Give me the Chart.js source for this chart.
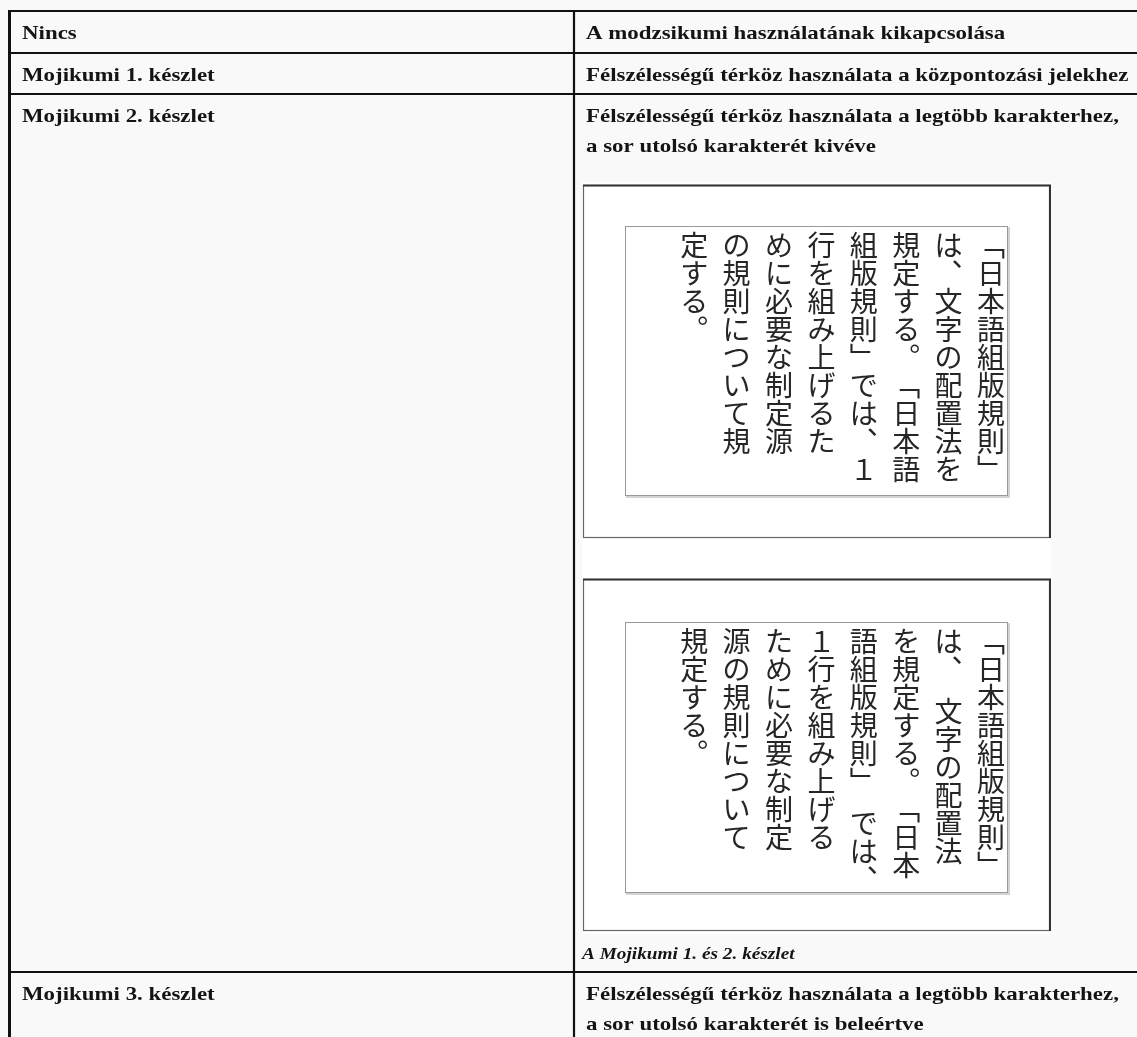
<!DOCTYPE html>
<html><head><meta charset="utf-8">
<script src="https://cdn.jsdelivr.net/npm/chart.js@4.4.0/dist/chart.umd.min.js"></script>
<style>html,body{margin:0;padding:0;background:#f9f9f9;overflow:hidden}#c{display:block}</style>
</head><body>
<canvas id="c" width="1137" height="1037"></canvas>
<script>
// ---- data ----
const rowLabels = ["Nincs", "Mojikumi 1. készlet", "Mojikumi 2. készlet", "Mojikumi 3. készlet"];
const rowDescriptions = [
  ["A modzsikumi használatának kikapcsolása"],
  ["Félszélességű térköz használata a központozási jelekhez"],
  ["Félszélességű térköz használata a legtöbb karakterhez,", "a sor utolsó karakterét kivéve"],
  ["Félszélességű térköz használata a legtöbb karakterhez,", "a sor utolsó karakterét is beleértve"]
];
const figureCaption = "A Mojikumi 1. és 2. készlet";
const sampleSet1Columns = ["「日本語組版規則」", "は、文字の配置法を", "規定する。「日本語", "組版規則」では、１", "行を組み上げるた", "めに必要な制定源", "の規則について規", "定する。"];
const sampleSet2Columns = ["「日本語組版規則」", "は、 文字の配置法", "を規定する。「日本", "語組版規則」 では、", "１行を組み上げる", "ために必要な制定", "源の規則について", "規定する。"];

// ---- layout / style ----
const rowLines = [11, 53, 94, 972, 1040];
const colDivX = 574, tableLeft = 9.5, tableRight = 1140;
const leftTextX = 22, rightTextX = 586, baselineOffset = 28, lineGap = 30;
const hScale = 1.205;
const serif = '"Liberation Serif", "Times New Roman", serif';
const jp = '"Noto Sans CJK JP", "Noto Sans CJK SC", sans-serif';
const figures = [
  {cols: sampleSet1Columns, frame: [583, 185, 1049, 537], inner: [625, 226, 1007, 495], top: 231},
  {cols: sampleSet2Columns, frame: [583, 579, 1049, 930], inner: [625, 622, 1007, 892], top: 627}
];
const colX0 = 991, colStep = 42.4, charPitch = 28;
const vertMap = {"、": "\uFE11", "。": "\uFE12", "「": "\uFE41", "」": "\uFE42"};

function drawScaled(c, text, x, y) {
  c.save(); c.translate(x, y); c.scale(hScale, 1); c.fillText(text, 0, 0); c.restore();
}

const tablePlugin = {
  id: 'tablePlugin',
  beforeDraw(chart) {
    const c = chart.ctx;
    c.save(); c.fillStyle = '#f9f9f9'; c.fillRect(0, 0, chart.width, chart.height); c.restore();
  },
  afterDraw(chart) {
    const c = chart.ctx, sx = chart.scales.x, sy = chart.scales.y;
    const X = v => sx.getPixelForValue(v), Y = v => sy.getPixelForValue(v);
    c.save();
    // figure white area
    c.fillStyle = '#ffffff';
    c.fillRect(X(582), Y(182), X(1051) - X(582), Y(934) - Y(182));
    figures.forEach(f => {
      const [x0, y0, x1, y1] = f.frame;
      c.strokeStyle = '#666'; c.lineWidth = 1.2;
      c.strokeRect(X(x0) + 0.5, Y(y0) + 0.5, X(x1) - X(x0), Y(y1) - Y(y0));
      c.strokeStyle = '#333'; c.lineWidth = 2;
      c.beginPath(); c.moveTo(X(x0), Y(y0) + 0.5); c.lineTo(X(x1) + 1, Y(y0) + 0.5); c.lineTo(X(x1) + 1, Y(y1) + 1); c.stroke();
      const [ix0, iy0, ix1, iy1] = f.inner;
      c.strokeStyle = '#999'; c.lineWidth = 1;
      c.strokeRect(X(ix0) + 0.5, Y(iy0) + 0.5, X(ix1) - X(ix0), Y(iy1) - Y(iy0));
      c.strokeStyle = '#d4d4d4'; c.lineWidth = 2;
      c.beginPath(); c.moveTo(X(ix1) + 2, Y(iy0) + 1); c.lineTo(X(ix1) + 2, Y(iy1) + 2); c.lineTo(X(ix0) + 1, Y(iy1) + 2); c.stroke();
      // vertical Japanese text
      c.fillStyle = '#262626';
      c.font = '28px ' + jp;
      c.textAlign = 'center'; c.textBaseline = 'middle';
      f.cols.forEach((col, ci) => {
        const cx = colX0 - ci * colStep;
        let y = f.top;
        for (const ch of col) {
          if (ch === ' ') { y += charPitch / 2; continue; }
          c.fillText(vertMap[ch] || ch, X(cx), Y(y + charPitch / 2));
          y += charPitch;
        }
      });
    });
    // table lines
    c.strokeStyle = '#111';
    c.lineWidth = 2.2;
    rowLines.forEach(ry => {
      c.beginPath(); c.moveTo(X(tableLeft - 1.5), Y(ry)); c.lineTo(X(tableRight), Y(ry)); c.stroke();
    });
    c.beginPath(); c.moveTo(X(colDivX), Y(rowLines[0])); c.lineTo(X(colDivX), Y(1040)); c.stroke();
    c.lineWidth = 3;
    c.beginPath(); c.moveTo(X(tableLeft), Y(rowLines[0] - 1)); c.lineTo(X(tableLeft), Y(1040)); c.stroke();
    // texts
    c.fillStyle = '#141414';
    c.textAlign = 'left'; c.textBaseline = 'alphabetic';
    c.font = 'bold 19px ' + serif;
    rowLabels.forEach((lab, i) => {
      drawScaled(c, lab, X(leftTextX), Y(rowLines[i] + baselineOffset));
    });
    rowDescriptions.forEach((lines, i) => {
      lines.forEach((ln, j) => {
        drawScaled(c, ln, X(rightTextX), Y(rowLines[i] + baselineOffset + j * lineGap));
      });
    });
    c.font = 'italic bold 16px ' + serif;
    drawScaled(c, figureCaption, X(582), Y(959));
    c.restore();
  }
};

new Chart(document.getElementById('c'), {
  type: 'scatter',
  data: {datasets: [{data: [], showLine: false}]},
  options: {
    responsive: false, animation: false,
    layout: {padding: 0},
    plugins: {legend: {display: false}, tooltip: {enabled: false}},
    scales: {
      x: {type: 'linear', display: false, min: 0, max: 1137},
      y: {type: 'linear', display: false, min: 0, max: 1037, reverse: true}
    }
  },
  plugins: [tablePlugin]
});
</script>
</body></html>
